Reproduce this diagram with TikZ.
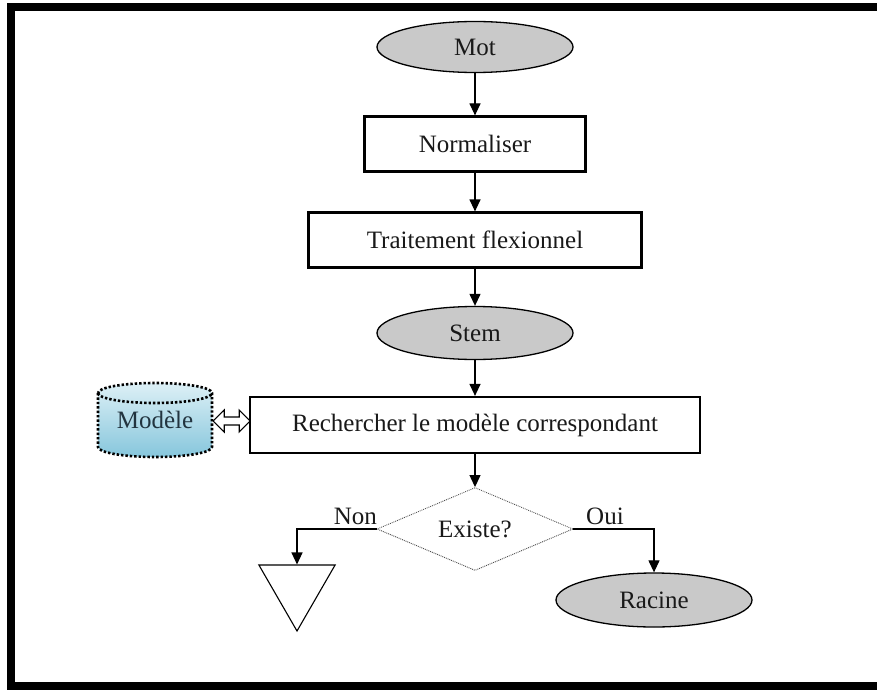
\documentclass[tikz,border=0pt]{standalone}
\usepackage{fontspec}
\setmainfont{Liberation Serif}
\usetikzlibrary{shapes.geometric,arrows.meta}
\definecolor{dbtop}{HTML}{DDF0F6}
\definecolor{dbbottom}{HTML}{86C6DC}
\definecolor{dbtext}{HTML}{22343F}
\begin{document}
\begin{tikzpicture}[x=1pt,y=-1pt,
  every node/.style={font=\fontsize{25}{29}\selectfont, inner sep=0pt, text=black!90},
  stepbox/.style={draw, rectangle, line width=2.2pt, minimum height=55pt},
  term/.style={draw, ellipse, fill=gray!42, line width=1.3pt, minimum width=196pt, minimum height=51pt},
  flow/.style={line width=1.2pt, -{Triangle[width=11pt,length=12pt]}},
  choice/.style={draw=gray!60!black, densely dotted, line width=0.9pt, diamond, aspect=2.36,
    minimum width=196pt, minimum height=83pt},
  sink/.style={draw, regular polygon, regular polygon sides=3, shape border rotate=180,
    minimum size=88pt, line width=1.1pt},
  dbline/.style={line width=2.6pt, dash pattern=on 2.4pt off 2pt},
  hollow/.style={draw, fill=white, line width=1.1pt, line join=miter},
]
\useasboundingbox (0,0) rectangle (877,690);

% outer frame
\draw[line width=8pt] (877,7) -- (11,7) -- (11,686) -- (877,686);

% main column
\node[term] (mot) at (475,47) {Mot};
\node[stepbox, minimum width=221pt] (norm) at (475,144) {Normaliser};
\node[stepbox, minimum width=333pt] (trait) at (475,240) {Traitement flexionnel};
\node[term, minimum height=53pt] (stem) at (475,333) {Stem};
\node[stepbox, minimum width=450pt, minimum height=56pt] (rech) at (475,425) {Rechercher le modèle correspondant};
\node[choice] (dia) at (475,529) {Existe?};
\node[sink] (tri) at (297,587) {};
\node[term, minimum height=54pt] (racine) at (654,600) {Racine};

% database cylinder
\shade[top color=dbtop, bottom color=dbbottom]
  (98,393) -- (98,447) arc[start angle=180, end angle=360, x radius=57pt, y radius=10pt]
  -- (212,393) arc[start angle=0, end angle=180, x radius=57pt, y radius=10pt] -- cycle;
\draw[dbline]
  (98,393) -- (98,447) arc[start angle=180, end angle=360, x radius=57pt, y radius=10pt]
  -- (212,393) arc[start angle=0, end angle=180, x radius=57pt, y radius=10pt] -- cycle;
\draw[dbline] (98,393) arc[start angle=180, end angle=360, x radius=57pt, y radius=10pt];
\node[minimum width=114pt, minimum height=74pt, text=dbtext] (modele) at (155,420) {Modèle};

% connectors
\draw[flow] (mot) -- (norm);
\draw[flow] (norm) -- (trait);
\draw[flow] (trait) -- (stem);
\draw[flow] (stem) -- (rech);
\draw[flow] (rech) -- (dia);
\draw[flow] (dia.west) -| (tri.north);
\draw[flow] (dia.east) -| (racine.north);

% two-way hollow arrow between the store and the lookup step
\begin{scope}[shift={(modele.east)}]
  \draw[hollow] (1,1) -- (12,-10) -- (12,-3) -- (27,-3) -- (27,-10) -- (38,1)
    -- (27,12) -- (27,5) -- (12,5) -- (12,12) -- cycle;
\end{scope}

% branch labels
\node[anchor=base east] (non) at (377,524) {Non};
\node[anchor=base west] (oui) at (586,524) {Oui};
\end{tikzpicture}
\end{document}
